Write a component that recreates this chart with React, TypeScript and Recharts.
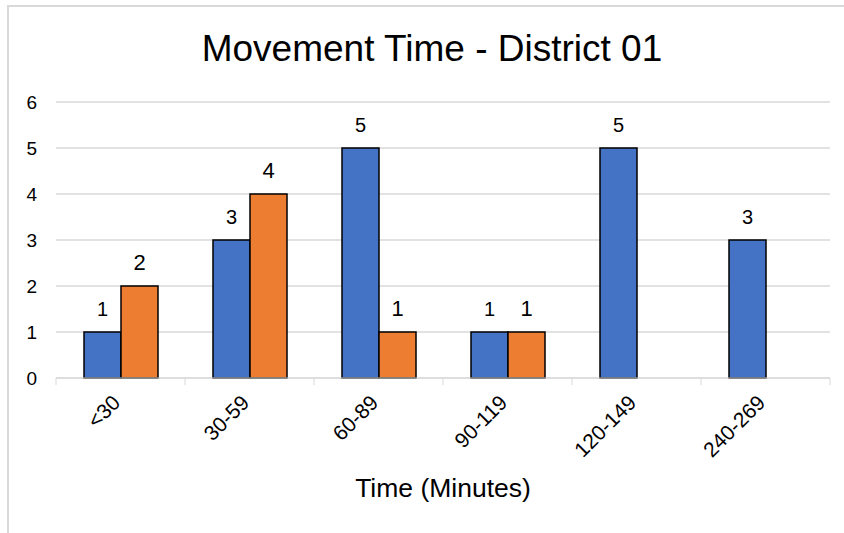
import { BarChart, Bar, XAxis, YAxis, CartesianGrid, LabelList } from 'recharts';

const categories = ['<30', '30-59', '60-89', '90-119', '120-149', '240-269'];
const blueCounts = [1, 3, 5, 1, 5, 3];
const orangeCounts: (number | null)[] = [2, 4, 1, 1, null, null];
const yTicks = [0, 1, 2, 3, 4, 5, 6];

const data = categories.map((name, i) => ({ name, blue: blueCounts[i], orange: orangeCounts[i] }));

const W = 844;
const H = 533;
const margin = { top: 102, right: 14, left: 0, bottom: 0 };
const yAxisWidth = 56;
const bandWidth = (W - margin.left - margin.right - yAxisWidth) / categories.length;
const font = 'Liberation Sans, Arial, sans-serif';

function XTick(props: any) {
  const { x, y, payload, index } = props;
  const last = index === categories.length - 1;
  const tx = x + 1;
  const ty = y + 18;
  return (
    <g>
      <line x1={x - bandWidth / 2} x2={x - bandWidth / 2} y1={y - 8} y2={y - 1} stroke="#d9d9d9" />
      {last && <line x1={x + bandWidth / 2} x2={x + bandWidth / 2} y1={y - 8} y2={y - 1} stroke="#d9d9d9" />}
      <text
        x={tx}
        y={ty}
        transform={`rotate(-45, ${tx}, ${ty})`}
        textAnchor="end"
        fontSize={21}
        fontFamily={font}
        fill="#000"
      >
        {payload.value}
      </text>
    </g>
  );
}

// value label drawn above a bar; gap = distance from bar top to baseline
const makeLabel = (size: number, gap: number) => (props: any) => {
  const vb = props.viewBox ?? props;
  const { value } = props;
  if (value == null || vb == null) return null;
  const cx = Number(vb.x) + Number(vb.width) / 2;
  return (
    <text x={cx} y={Number(vb.y) - gap} textAnchor="middle" fontSize={size} fontFamily={font} fill="#000">
      {value}
    </text>
  );
};

export default function App() {
  return (
    <div style={{ position: 'absolute', left: 0, top: 0, width: W, height: H, background: '#fff', overflow: 'hidden' }}>
      <div
        style={{
          position: 'absolute', left: 7, top: 5, right: -10, bottom: -10,
          borderLeft: '2px solid #d9d9d9', borderTop: '2px solid #d9d9d9',
        }}
      />
      <div
        style={{
          position: 'absolute', left: 10, width: W, top: 27, textAlign: 'center',
          fontFamily: font, fontSize: 37, lineHeight: '44px', color: '#000',
        }}
      >
        Movement Time - District 01
      </div>
      <div style={{ position: 'absolute', left: 0, top: 0 }}>
        <BarChart width={W} height={H} data={data} margin={margin} barGap={0} barCategoryGap={28}>
          <CartesianGrid vertical={false} stroke="#d9d9d9" strokeWidth={1.5} />
          <XAxis
            dataKey="name"
            height={H - 378}
            stroke="#d9d9d9"
            tickLine={false}
            tick={<XTick />}
            interval={0}
            label={{ value: 'Time (Minutes)', position: 'insideTop', offset: 100, fontSize: 26.5, fontFamily: font, fill: '#000' }}
          />
          <YAxis
            width={yAxisWidth}
            domain={[0, 6]}
            ticks={yTicks}
            axisLine={false}
            tickLine={false}
            tickSize={0}
            tickMargin={19}
            tick={{ fontSize: 19, fontFamily: font, fill: '#000' }}
          />
          <Bar dataKey="blue" fill="#4472C4" stroke="#000" strokeWidth={1.5} isAnimationActive={false}>
            <LabelList dataKey="blue" content={makeLabel(20, 16)} />
          </Bar>
          <Bar dataKey="orange" fill="#ED7D31" stroke="#000" strokeWidth={1.5} isAnimationActive={false}>
            <LabelList dataKey="orange" content={makeLabel(22, 16)} />
          </Bar>
        </BarChart>
      </div>
    </div>
  );
}
